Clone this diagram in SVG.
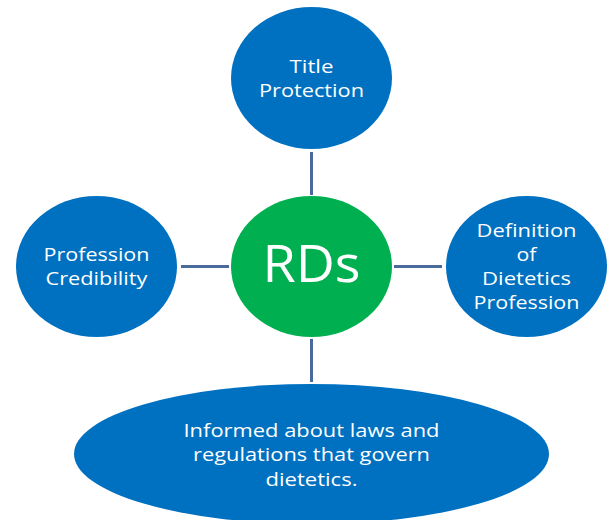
<svg xmlns="http://www.w3.org/2000/svg" width="611" height="520" viewBox="0 0 611 520">
  <style>
    .node { fill: #0070C0; }
    .hub { fill: #00B050; }
    .label { fill: #ffffff; font-family: "Open Sans", "Liberation Sans", sans-serif; font-size: 18.5px; text-anchor: middle; }
    .hub-label { fill: #ffffff; font-family: "Open Sans", "Liberation Sans", sans-serif; font-size: 52px; text-anchor: middle; }
    .link { stroke: #4A6A9C; stroke-width: 3; fill: none; }
  </style>
  <rect width="611" height="520" fill="#ffffff"/>
  <g id="connectors">
    <line class="link" x1="311.5" y1="152" x2="311.5" y2="195"/>
    <line class="link" x1="311.5" y1="339" x2="311.5" y2="382"/>
    <line class="link" x1="181" y1="266.5" x2="229" y2="266.5"/>
    <line class="link" x1="394" y1="266.5" x2="442" y2="266.5"/>
  </g>
  <g id="title-protection">
    <ellipse class="node" cx="311.5" cy="78" rx="80.5" ry="71"/>
    <text class="label" x="311.5" y="73" textLength="44" lengthAdjust="spacingAndGlyphs">Title</text>
    <text class="label" x="311.5" y="97" textLength="105" lengthAdjust="spacingAndGlyphs">Protection</text>
  </g>
  <g id="rds">
    <ellipse class="hub" cx="311.5" cy="266.5" rx="80.5" ry="70.5"/>
    <text class="hub-label" x="311.5" y="282" textLength="98" lengthAdjust="spacingAndGlyphs">RDs</text>
  </g>
  <g id="profession-credibility">
    <ellipse class="node" cx="96.5" cy="266.5" rx="80.5" ry="70.5"/>
    <text class="label" x="96.5" y="261" textLength="106" lengthAdjust="spacingAndGlyphs">Profession</text>
    <text class="label" x="96.5" y="285" textLength="102" lengthAdjust="spacingAndGlyphs">Credibility</text>
  </g>
  <g id="definition">
    <ellipse class="node" cx="526.5" cy="266.5" rx="80.5" ry="70.5"/>
    <text class="label" x="526.5" y="237" textLength="100" lengthAdjust="spacingAndGlyphs">Definition</text>
    <text class="label" x="526.5" y="261" textLength="20" lengthAdjust="spacingAndGlyphs">of</text>
    <text class="label" x="526.5" y="285" textLength="89" lengthAdjust="spacingAndGlyphs">Dietetics</text>
    <text class="label" x="526.5" y="309" textLength="106" lengthAdjust="spacingAndGlyphs">Profession</text>
  </g>
  <g id="laws-regulations">
    <ellipse class="node" cx="311.5" cy="454" rx="237.5" ry="70"/>
    <text class="label" x="311.5" y="437" textLength="256" lengthAdjust="spacingAndGlyphs">Informed about laws and</text>
    <text class="label" x="311.5" y="461" textLength="237" lengthAdjust="spacingAndGlyphs">regulations that govern</text>
    <text class="label" x="311.5" y="486" textLength="92" lengthAdjust="spacingAndGlyphs">dietetics.</text>
  </g>
</svg>
